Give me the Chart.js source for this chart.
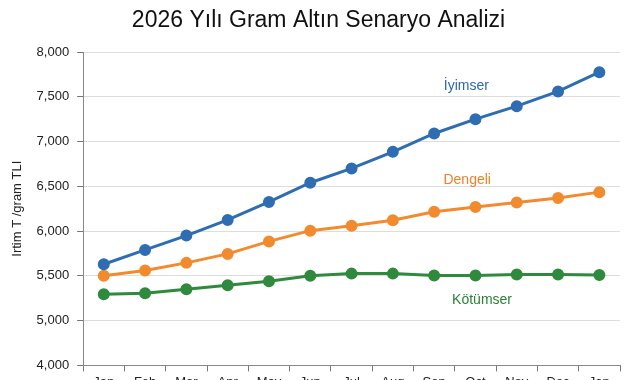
<!DOCTYPE html>
<html>
<head>
<meta charset="utf-8">
<script src="https://cdn.jsdelivr.net/npm/chart.js@4"></script>
<style>
    html, body { margin: 0; padding: 0; background: #fff; overflow: hidden; }
    #wrap { width: 641px; height: 393px; }
</style>
</head>
<body>
<div id="wrap"><canvas id="myChart" width="641" height="393"></canvas></div>
<script>
// Data
const months = ['Jan', 'Feb', 'Mar', 'Apr', 'May', 'Jun', 'Jul', 'Aug', 'Sep', 'Oct', 'Nov', 'Dec', 'Jan'];
const iyimser = [5630, 5790, 5950, 6125, 6325, 6540, 6700, 6885, 7090, 7250, 7395, 7560, 7775];
const dengeli = [5500, 5560, 5645, 5745, 5885, 6005, 6060, 6120, 6215, 6270, 6320, 6370, 6435];
const kotumser = [5295, 5305, 5350, 5395, 5440, 5500, 5525, 5525, 5505, 5505, 5515, 5515, 5510];
// bottom tick of the broken axis is labelled 4,000
const yTicks = [4500, 5000, 5500, 6000, 6500, 7000, 7500, 8000];
const yTickLabels = ['4,000', '5,000', '5,500', '6,000', '6,500', '7,000', '7,500', '8,000'];
const chartTitle = '2026 Yılı Gram Altın Senaryo Analizi';

const FONT = '"Liberation Sans", Arial, sans-serif';

// Title centred on the whole canvas (the built-in one centres on the padded box)
const pageTitle = {
    id: 'pageTitle',
    afterDraw(chart) {
        const c = chart.ctx;
        c.save();
        c.font = '500 23px ' + FONT;
        c.fillStyle = '#111';
        c.textAlign = 'center';
        c.textBaseline = 'middle';
        c.fillText(chartTitle, chart.width / 2 - 2, 21);
        c.restore();
    }
};

// Series names drawn next to the lines
const seriesLabels = {
    id: 'seriesLabels',
    afterDatasetsDraw(chart) {
        const c = chart.ctx;
        const x = chart.scales.x;
        const y = chart.scales.y;
        const items = [
            { text: 'İyimser', idx: 8.78, val: 7620, color: '#2c68ae' },
            { text: 'Dengeli', idx: 8.8, val: 6570, color: '#ee8128' },
            { text: 'Kötümser', idx: 9.16, val: 5225, color: '#2a8138' }
        ];
        c.save();
        c.font = '14px ' + FONT;
        c.textAlign = 'center';
        c.textBaseline = 'middle';
        items.forEach(it => {
            const px = x.left + (it.idx + 0.5) * (x.width / months.length);
            c.fillStyle = it.color;
            c.fillText(it.text, px, y.getPixelForValue(it.val));
        });
        c.restore();
    }
};

function line(label, data, color) {
    return {
        label: label,
        data: data,
        borderColor: color,
        backgroundColor: color,
        borderWidth: 3,
        pointRadius: 4.5,
        pointHoverRadius: 4.5,
        tension: 0,
        fill: false
    };
}

const ctx = document.getElementById('myChart').getContext('2d');

const myChart = new Chart(ctx, {
    type: 'line',
    data: {
        labels: months,
        datasets: [
            line('İyimser', iyimser, '#2f6db3'),
            line('Dengeli', dengeli, '#f28a2e'),
            line('Kötümser', kotumser, '#2f8a3d')
        ]
    },
    options: {
        responsive: false,
        animation: false,
        layout: { padding: { left: 1, right: 21, top: 52, bottom: 0 } },
        plugins: {
            legend: { display: false },
            tooltip: { enabled: false },
            title: { display: false }
        },
        scales: {
            x: {
                offset: true,
                grid: {
                    offset: true,
                    drawOnChartArea: false,
                    drawTicks: true,
                    tickLength: 6,
                    tickColor: '#777'
                },
                border: { color: '#888', width: 1 },
                ticks: {
                    color: '#222',
                    font: { family: FONT, size: 13 },
                    padding: 3,
                    maxRotation: 0,
                    autoSkip: false
                }
            },
            y: {
                min: 4500,
                max: 8000,
                afterBuildTicks(scale) {
                    scale.ticks = yTicks.map(v => ({ value: v }));
                },
                grid: {
                    color: '#dddddd',
                    tickLength: 6,
                    tickColor: '#777'
                },
                border: { color: '#888', width: 1 },
                ticks: {
                    color: '#222',
                    font: { family: FONT, size: 13 },
                    padding: 8,
                    callback: function (value) {
                        return yTickLabels[yTicks.indexOf(value)];
                    }
                },
                title: {
                    display: true,
                    text: 'Irtim T /gram TLI',
                    color: '#222',
                    font: { family: FONT, size: 13 },
                    padding: { top: 9, bottom: 3 }
                }
            }
        }
    },
    plugins: [seriesLabels, pageTitle]
});
</script>
</body>
</html>
